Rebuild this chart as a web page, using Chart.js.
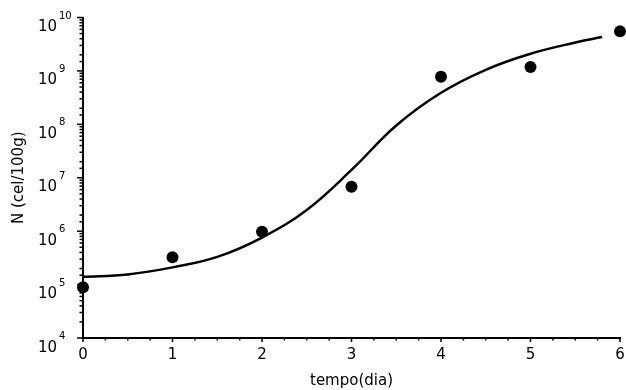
<!DOCTYPE html>
<html>
<head>
<meta charset="utf-8">
<script src="https://cdn.jsdelivr.net/npm/chart.js@4.4.1/dist/chart.umd.min.js"></script>
<style>
  html, body { margin: 0; padding: 0; background: #fff; }
  canvas { display: block; }
</style>
</head>
<body>
<canvas id="c" width="626" height="390"></canvas>
<script>
// Observed data (points)
const dias = [0, 1, 2, 3, 4, 5, 6];
const observado = [8.9e4, 3.25e5, 9.8e5, 6.8e6, 7.8e8, 1.18e9, 5.5e9];

// Fitted curve
const curvaX = [0, 0.5, 1, 1.5, 2, 2.5, 3, 3.5, 4, 4.5, 5, 5.5, 5.8];
const curvaY = [1.4e5, 1.55e5, 2.1e5, 3.3e5, 7.6e5, 2.5e6, 1.4e7, 9.5e7, 3.9e8, 1.05e9, 2.1e9, 3.4e9, 4.3e9];

// Tick labels
const xTickLabels = ['0', '1', '2', '3', '4', '5', '6'];
const yTickExps = ['4', '5', '6', '7', '8', '9', '10'];

const FONT = '"DejaVu Sans", sans-serif';

const axisPlugin = {
  id: 'axisTicksLabels',
  beforeDatasetsDraw(chart) {
    const ctx = chart.ctx;
    const xs = chart.scales.x, ys = chart.scales.y;
    const area = chart.chartArea;
    ctx.save();
    ctx.strokeStyle = '#000';
    ctx.fillStyle = '#000';
    ctx.lineWidth = 1.5;
    ys.ticks.forEach(t => {
      const y = ys.getPixelForValue(t.value);
      const e = Math.log10(t.value);
      const major = Math.abs(e - Math.round(e)) < 1e-6;
      const len = major ? 6 : 3.5;
      ctx.beginPath();
      ctx.moveTo(area.left - len, y);
      ctx.lineTo(area.left, y);
      ctx.stroke();
    });
    xs.ticks.forEach(t => {
      const x = xs.getPixelForValue(t.value);
      const major = Math.abs(t.value - Math.round(t.value)) < 1e-6;
      const len = major ? 4 : 2.5;
      ctx.beginPath();
      ctx.moveTo(x, area.bottom);
      ctx.lineTo(x, area.bottom + len);
      ctx.stroke();
    });
    ctx.font = '15px ' + FONT;
    ctx.textAlign = 'center';
    ctx.textBaseline = 'alphabetic';
    xTickLabels.forEach(lbl => {
      const x = xs.getPixelForValue(Number(lbl));
      ctx.fillText(lbl, x, area.bottom + 21);
    });
    yTickExps.forEach(ex => {
      const y = ys.getPixelForValue(Math.pow(10, Number(ex)));
      ctx.font = '15px ' + FONT;
      ctx.textAlign = 'right';
      ctx.fillText('10', 57, y + 13.5);
      ctx.font = '10px ' + FONT;
      ctx.textAlign = 'left';
      ctx.fillText(ex, 59, y + 1);
    });
    ctx.restore();
  }
};

function fixScale(size) {
  return function (scale) {
    if (scale.isHorizontal()) scale.height = size; else scale.width = size;
    scale.paddingLeft = 0; scale.paddingRight = 0;
    scale.paddingTop = 0; scale.paddingBottom = 0;
  };
}

new Chart(document.getElementById('c'), {
  type: 'scatter',
  data: {
    datasets: [
      {
        label: 'ajuste',
        data: curvaX.map((x, i) => ({ x: x, y: curvaY[i] })),
        showLine: true,
        borderColor: '#000',
        borderWidth: 2.5,
        pointRadius: 0,
        fill: false,
        tension: 0.4,
        clip: false
      },
      {
        label: 'observado',
        data: dias.map((x, i) => ({ x: x, y: observado[i] })),
        showLine: false,
        backgroundColor: '#000',
        borderColor: '#000',
        pointRadius: 6,
        pointBorderWidth: 0,
        clip: false
      }
    ]
  },
  options: {
    responsive: false,
    animation: false,
    devicePixelRatio: 1,
    layout: { padding: { top: 17.5, right: 2, left: 0, bottom: 0 } },
    plugins: { legend: { display: false }, tooltip: { enabled: false } },
    scales: {
      x: {
        type: 'linear',
        min: 0, max: 6,
        ticks: { display: false, stepSize: 0.25 },
        grid: { display: false, drawTicks: false },
        border: { display: true, color: '#000', width: 2 },
        title: {
          display: true, text: 'tempo(dia)', color: '#000',
          font: { family: FONT, size: 15 }, padding: { top: 5, bottom: 0 }
        },
        afterFit: fixScale(52)
      },
      y: {
        type: 'logarithmic',
        min: 1e4, max: 1e10,
        ticks: { display: false, autoSkip: false },
        grid: { display: false, drawTicks: false },
        border: { display: true, color: '#000', width: 2 },
        title: {
          display: true, text: 'N (cel/100g)', color: '#000',
          font: { family: FONT, size: 15 }, padding: { top: 10, bottom: 0 }
        },
        afterFit: fixScale(83)
      }
    }
  },
  plugins: [axisPlugin]
});
</script>
</body>
</html>
